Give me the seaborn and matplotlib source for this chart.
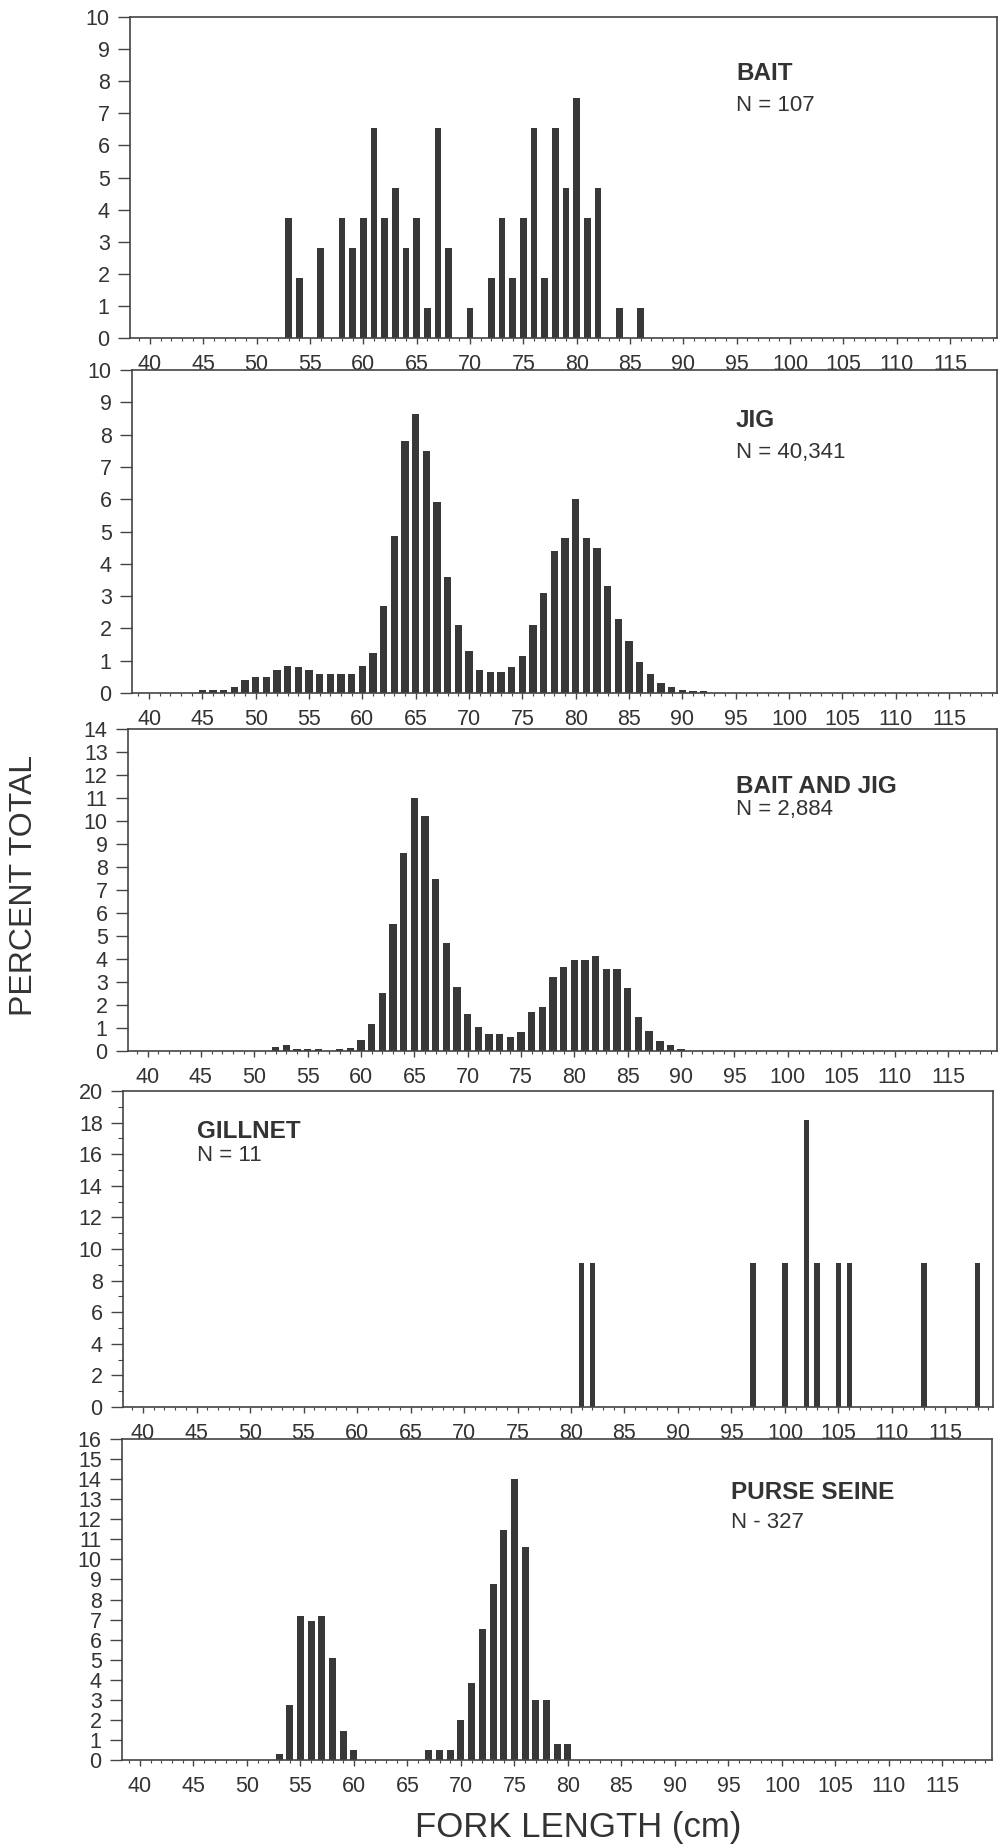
import matplotlib
matplotlib.use("Agg")
import matplotlib.pyplot as plt
from matplotlib.ticker import MultipleLocator, FixedLocator
import pandas as pd
import seaborn as sns

# ---------------- data ----------------
bait_len = [53, 54, 56, 58, 59, 60, 61, 62, 63, 64, 65, 66, 67, 68, 70,
            72, 73, 74, 75, 76, 77, 78, 79, 80, 81, 82, 84, 86]
bait_pct = [3.74, 1.87, 2.80, 3.74, 2.80, 3.74, 6.54, 3.74, 4.67, 2.80, 3.74, 0.93, 6.54, 2.80, 0.93,
            1.87, 3.74, 1.87, 3.74, 6.54, 1.87, 6.54, 4.67, 7.48, 3.74, 4.67, 0.93, 0.93]

jig_len = [45, 46, 47, 48, 49, 50, 51, 52, 53, 54, 55, 56, 57, 58, 59, 60,
           61, 62, 63, 64, 65, 66, 67, 68, 69, 70, 71, 72, 73, 74, 75, 76,
           77, 78, 79, 80, 81, 82, 83, 84, 85, 86, 87, 88, 89, 90, 91, 92]
jig_pct = [0.1, 0.1, 0.1, 0.2, 0.4, 0.5, 0.5, 0.7, 0.85, 0.8, 0.7, 0.6, 0.6, 0.6, 0.6, 0.85,
           1.25, 2.7, 4.85, 7.8, 8.65, 7.5, 5.9, 3.6, 2.1, 1.3, 0.7, 0.65, 0.65, 0.8, 1.15, 2.1,
           3.1, 4.4, 4.8, 6.0, 4.8, 4.5, 3.3, 2.3, 1.6, 0.95, 0.6, 0.3, 0.2, 0.1, 0.07, 0.05]

bj_len = [52, 53, 54, 55, 56, 58, 59, 60, 61, 62, 63, 64, 65, 66, 67, 68, 69, 70,
          71, 72, 73, 74, 75, 76, 77, 78, 79, 80, 81, 82, 83, 84, 85, 86, 87, 88, 89, 90]
bj_pct = [0.17, 0.25, 0.07, 0.07, 0.07, 0.07, 0.14, 0.46, 1.18, 2.54, 5.53, 8.61, 11.0, 10.2,
          7.5, 4.7, 2.8, 1.63, 1.05, 0.74, 0.74, 0.59, 0.82, 1.68, 1.9, 3.2, 3.66, 3.97,
          3.97, 4.15, 3.55, 3.55, 2.75, 1.5, 0.86, 0.45, 0.27, 0.1]

gill_len = [81, 82, 97, 100, 102, 103, 105, 106, 113, 118]
gill_pct = [9.09, 9.09, 9.09, 9.09, 18.18, 9.09, 9.09, 9.09, 9.09, 9.09]

ps_len = [53, 54, 55, 56, 57, 58, 59, 60, 67, 68, 69, 70, 71, 72, 73, 74, 75, 76, 77, 78, 79, 80]
ps_pct = [0.3, 2.75, 7.2, 6.95, 7.2, 5.1, 1.45, 0.5, 0.5, 0.5, 0.5, 2.0, 3.85, 6.55, 8.75,
          11.45, 14.0, 10.6, 3.0, 3.0, 0.8, 0.8]

panel_titles = ["BAIT", "JIG", "BAIT AND JIG", "GILLNET", "PURSE SEINE"]
panel_counts = ["N = 107", "N = 40,341", "N = 2,884", "N = 11", "N - 327"]
x_ticks = [40, 45, 50, 55, 60, 65, 70, 75, 80, 85, 90, 95, 100, 105, 110, 115]
y_ticks_p1 = [0, 1, 2, 3, 4, 5, 6, 7, 8, 9, 10]
y_ticks_p2 = [0, 1, 2, 3, 4, 5, 6, 7, 8, 9, 10]
y_ticks_p3 = [0, 1, 2, 3, 4, 5, 6, 7, 8, 9, 10, 11, 12, 13, 14]
y_ticks_p4 = [0, 2, 4, 6, 8, 10, 12, 14, 16, 18, 20]
y_ticks_p5 = [0, 1, 2, 3, 4, 5, 6, 7, 8, 9, 10, 11, 12, 13, 14, 15, 16]
y_label = "PERCENT TOTAL"
x_label = "FORK LENGTH (cm)"

# ---------------- style ----------------
sns.set_style("ticks")
plt.rcParams['font.family'] = ['Liberation Sans', 'DejaVu Sans']
INK = "#383838"
TXT = "#333333"

W, H = 1001, 1848
fig = plt.figure(figsize=(W / 100, H / 100), dpi=100)
fig.patch.set_facecolor("white")

# layout in pixels: left, right, top, bottom
boxes = [(130, 997, 17, 338), (132, 997, 370, 693), (128, 997, 729, 1051),
         (123, 993, 1091, 1407), (122, 992, 1439, 1760)]
xlims = [(38.13, 119.4), (38.4, 119.5), (38.17, 119.6), (38.13, 119.44), (38.32, 119.63)]
ylims = [10, 10, 14, 20, 16]
widths = [0.6, 0.68, 0.70, 0.50, 0.65]
series = [(bait_len, bait_pct), (jig_len, jig_pct), (bj_len, bj_pct),
          (gill_len, gill_pct), (ps_len, ps_pct)]
yticks = [y_ticks_p1, y_ticks_p2, y_ticks_p3, y_ticks_p4, y_ticks_p5]
# text positions in pixels (x, baseline y) for title and N line
title_pos = [(736, 80, 111), (736, 427, 458), (736, 793, 815), (197, 1138, 1161), (731, 1499, 1528)]

for i, ((l, r, t, b), (xs, ys)) in enumerate(zip(boxes, series)):
    ax = fig.add_axes([l / W, 1 - b / H, (r - l) / W, (b - t) / H])
    df = pd.DataFrame({"length": xs, "pct": ys})
    sns.barplot(data=df, x="length", y="pct", native_scale=True, width=widths[i],
                color=INK, saturation=1, linewidth=0, errorbar=None, ax=ax)
    ax.set_xlim(*xlims[i])
    ax.set_ylim(0, ylims[i])
    ax.set_xlabel("")
    ax.set_ylabel("")
    ax.xaxis.set_major_locator(FixedLocator(x_ticks))
    ax.set_xticklabels([str(v) for v in x_ticks])
    ax.xaxis.set_minor_locator(MultipleLocator(1))
    ax.yaxis.set_major_locator(FixedLocator(yticks[i]))
    ax.set_yticklabels([str(v) for v in yticks[i]])
    if i == 3:
        ax.yaxis.set_minor_locator(MultipleLocator(1))
    for s in ax.spines.values():
        s.set_visible(True)
        s.set_color("#444444")
        s.set_linewidth(1.2)
    ax.tick_params(axis="x", which="major", length=4.5, width=1.0, pad=7,
                   labelsize=15.5, labelcolor=TXT, color="#444444", direction="out")
    ax.tick_params(axis="x", which="minor", length=2.2, width=0.8, color="#444444", direction="out")
    ax.tick_params(axis="y", which="major", length=8.6, width=1.0, pad=6,
                   labelsize=15.5, labelcolor=TXT, color="#444444", direction="out")
    ax.tick_params(axis="y", which="minor", length=3.5, width=0.8, color="#444444", direction="out")
    ax.set_facecolor("white")

    tx, ty1, ty2 = title_pos[i]
    fig.text(tx / W, 1 - ty1 / H, panel_titles[i], fontsize=17.5, fontweight="bold",
             color=TXT, ha="left", va="baseline")
    fig.text(tx / W, 1 - ty2 / H, panel_counts[i], fontsize=16,
             color=TXT, ha="left", va="baseline")

fig.text(24 / W, 1 - 885 / H, y_label, rotation=90, fontsize=23, color=TXT,
         ha="center", va="center")
fig.text(578 / W, 1 - 1827 / H, x_label, fontsize=25, color=TXT,
         ha="center", va="center")

fig.savefig("out.png", dpi=100, facecolor="white")
